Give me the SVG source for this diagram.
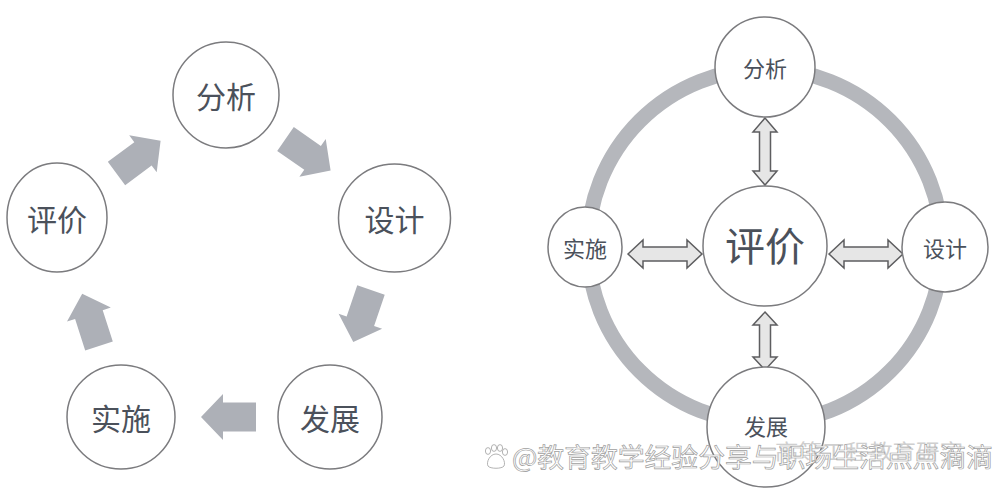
<svg xmlns="http://www.w3.org/2000/svg" width="1006" height="500" viewBox="0 0 1006 500">
<style>
.node{fill:#fff;stroke:#7b7b7e;stroke-width:1.5}
.lbl{font-family:"Noto Sans CJK SC","Noto Sans",sans-serif;fill:#4b515b;text-anchor:middle;dominant-baseline:central}
.big{font-size:30px}
.sm{font-size:22px}
.ctr{font-size:40px}
.flow{fill:#adb0b7}
.dbl{fill:#e6e6e6;stroke:#5e5e60;stroke-width:1.5;stroke-linejoin:miter}
.ring{fill:none;stroke:#b5b7bc;stroke-width:15}
.wm{font-family:"Noto Sans CJK SC",sans-serif;font-size:26px;fill:#fff;stroke:#a0a0a0;stroke-width:0.7}
</style>
<defs>
<path id="blk" d="M0,-14.5 H33 V-23 L55,0 L33,23 V14.5 H0 Z"/>
<path id="hdbl" d="M-37,0 L-22,-14 V-7 H22 V-14 L37,0 L22,14 V7 H-22 V14 Z"/>
</defs>
<rect width="1006" height="500" fill="#fff"/>
<circle class="ring" cx="765" cy="246" r="177"/>
<g id="connectors">
<use href="#blk" class="flow" transform="translate(116.5,173.5) rotate(-36.7)"/>
<use href="#blk" class="flow" transform="translate(285.5,139) rotate(34.9)"/>
<use href="#blk" class="flow" transform="translate(371,290) rotate(108.8)"/>
<use href="#blk" class="flow" transform="translate(256,417) rotate(180)"/>
<use href="#blk" class="flow" transform="translate(99,346) rotate(-107.8)"/>
<use href="#hdbl" class="dbl" transform="translate(665,254)"/>
<use href="#hdbl" class="dbl" transform="translate(866,254)"/>
<path class="dbl" d="M765,118 L777,132 H770.5 V171 H777 L765,185 L753,171 H759.5 V132 H753 Z"/>
<path class="dbl" d="M765,312 L777,325 H770.5 V357 H777 L765,370 L753,357 H759.5 V325 H753 Z"/>
</g>
<g id="L-fenxi"><ellipse class="node" cx="226" cy="95" rx="53" ry="53"/><text class="lbl big" x="226" y="95">分析</text></g>
<g id="L-sheji"><ellipse class="node" cx="394.5" cy="218" rx="56" ry="54"/><text class="lbl big" x="394.5" y="218">设计</text></g>
<g id="L-fazhan"><ellipse class="node" cx="330" cy="417" rx="52" ry="52"/><text class="lbl big" x="330" y="417">发展</text></g>
<g id="L-shishi"><ellipse class="node" cx="121" cy="417" rx="54" ry="52"/><text class="lbl big" x="121" y="417">实施</text></g>
<g id="L-pingjia"><ellipse class="node" cx="57" cy="217.5" rx="50" ry="54.5"/><text class="lbl big" x="57" y="217.5">评价</text></g>
<g id="R-pingjia"><ellipse class="node" cx="765" cy="246" rx="62" ry="60"/><text class="lbl ctr" x="765" y="244">评价</text></g>
<g id="R-fenxi"><circle class="node" cx="765" cy="67" r="50"/><text class="lbl sm" x="765" y="67">分析</text></g>
<g id="R-sheji"><ellipse class="node" cx="945" cy="247" rx="43" ry="45"/><text class="lbl sm" x="945" y="247">设计</text></g>
<g id="R-shishi"><ellipse class="node" cx="585" cy="247" rx="37" ry="40"/><text class="lbl sm" x="585" y="247">实施</text></g>
<g id="R-fazhan"><ellipse class="node" cx="766" cy="427" rx="59" ry="60"/><text class="lbl sm" x="766" y="425">发展</text></g>
<g id="watermark">
<text x="775" y="459" font-family="Noto Sans CJK SC,sans-serif" font-size="21" fill="#cfcfcf" textLength="188" lengthAdjust="spacingAndGlyphs">高等工程教育研究</text>
<g fill="#fff" stroke="#a0a0a0" stroke-width="0.8">
<ellipse cx="488" cy="451" rx="2.6" ry="3.4"/>
<ellipse cx="494" cy="448" rx="2.6" ry="3.4"/>
<ellipse cx="500" cy="448" rx="2.6" ry="3.4"/>
<ellipse cx="505" cy="452" rx="2.6" ry="3.4"/>
<path d="M496,454 C490,454 486,462 488,466 C490,469 502,469 504,466 C506,462 502,454 496,454 Z"/>
</g>
<text class="wm" x="512" y="467" textLength="481" lengthAdjust="spacingAndGlyphs">@教育教学经验分享与职场生活点点滴滴</text>
</g>
</svg>
